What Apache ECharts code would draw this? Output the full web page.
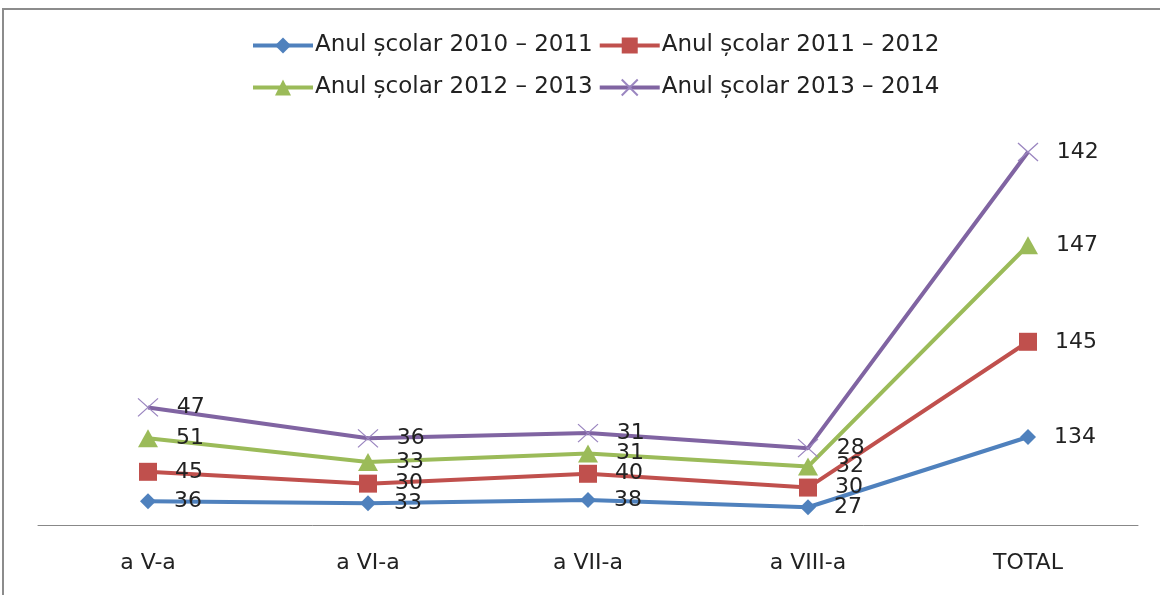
<!DOCTYPE html>
<html>
<head>
<meta charset="utf-8">
<script src="https://cdn.jsdelivr.net/npm/echarts@6/dist/echarts.min.js"></script>
<style>html,body{margin:0;padding:0;background:#fff}#c{width:1160px;height:595px}</style>
</head>
<body>
<div id="c"></div>
<script>
const categories = ['a V-a', 'a VI-a', 'a VII-a', 'a VIII-a', 'TOTAL'];
const seriesNames = ['Anul școlar 2010 – 2011', 'Anul școlar 2011 – 2012', 'Anul școlar 2012 – 2013', 'Anul școlar 2013 – 2014'];
const values2010 = [36, 33, 38, 27, 134];
const values2011 = [45, 30, 40, 30, 145];
const values2012 = [51, 33, 31, 32, 147];
const values2013 = [47, 36, 31, 28, 142];

const colors = ['#4F81BD', '#C0504D', '#9BBB59', '#8064A2'];
const symbols = ['diamond', 'rect', 'triangle', 'path://M0,0L10,10M10,0L0,10'];
const sizes = [[16, 16], [18, 18], [20, 18], [20, 18]];
const allValues = [values2010, values2011, values2012, values2013];
const FONT = 'DejaVu Sans';
const FS = 22;

const chart = echarts.init(document.getElementById('c'));
const series = allValues.map((vals, i) => ({
  name: seriesNames[i],
  type: 'line',
  stack: 'total',
  data: vals,
  symbol: symbols[i],
  symbolSize: sizes[i],
  lineStyle: { color: colors[i], width: 4 },
  itemStyle: i === 3
    ? { color: 'rgba(0,0,0,0)', borderColor: '#9b86c0', borderWidth: 1.2 }
    : { color: colors[i] },
  label: {
    show: true, position: 'right', distance: 18,
    color: '#222', fontFamily: FONT, fontSize: FS
  },
  emphasis: { disabled: true },
  animation: false,
  z: 2 + i
}));

const legendCommon = {
  left: 246, itemWidth: 60, itemHeight: 20, itemGap: 5,
  lineStyle: { width: 4 },
  textStyle: { fontFamily: FONT, fontSize: 23, color: '#222', padding: [0, 0, 0, -3] }
};

chart.setOption({
  animation: false,
  color: colors,
  graphic: [{
    type: 'rect', shape: { x: 3, y: 9, width: 1200, height: 700 },
    style: { fill: 'none', stroke: '#8c8c8c', lineWidth: 2 }, silent: true
  }],
  legend: [
    Object.assign({ data: seriesNames.slice(0, 2), top: 29 }, legendCommon),
    Object.assign({ data: seriesNames.slice(2, 4), top: 71 }, legendCommon)
  ],
  grid: { left: 38, right: 22, top: 131, bottom: 70, containLabel: false },
  xAxis: {
    type: 'category', data: categories, boundaryGap: true,
    axisLine: { lineStyle: { color: '#888', width: 1 } },
    axisTick: { show: false },
    axisLabel: { fontFamily: FONT, fontSize: FS, color: '#222', margin: 27 }
  },
  yAxis: {
    type: 'value', min: 0, max: 600, show: false, splitLine: { show: false }
  },
  series: series
});
</script>
</body>
</html>
